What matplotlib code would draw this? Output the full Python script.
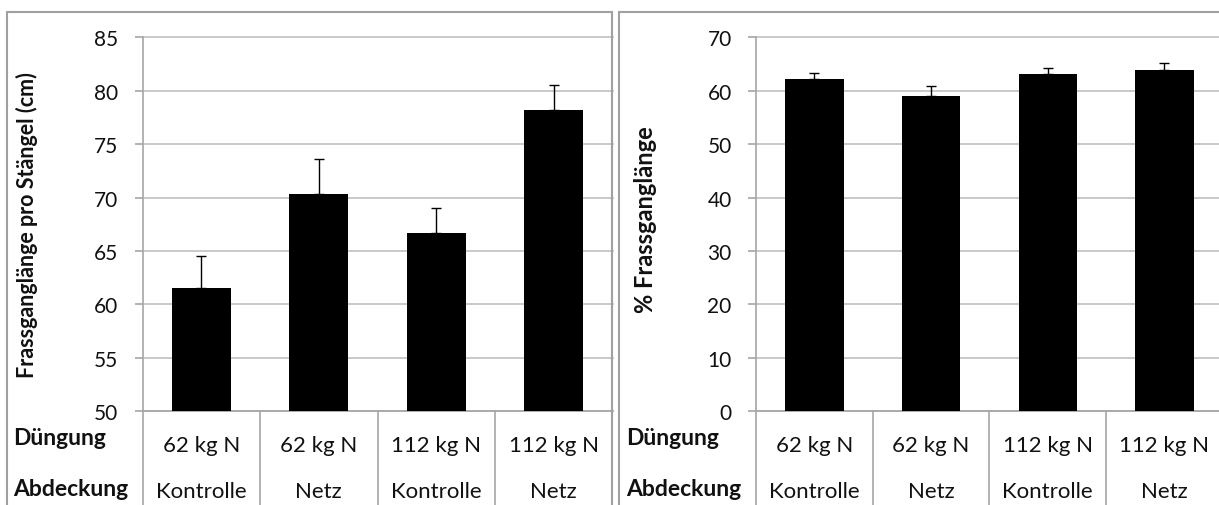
import matplotlib
matplotlib.use("Agg")
import matplotlib.pyplot as plt
from matplotlib.patches import Rectangle
from matplotlib.transforms import blended_transform_factory

plt.rcParams['font.family'] = ['Lato', 'DejaVu Sans']

duengung = ['62 kg N', '62 kg N', '112 kg N', '112 kg N']
abdeckung = ['Kontrolle', 'Netz', 'Kontrolle', 'Netz']

laenge = [61.5, 70.3, 66.7, 78.2]
laenge_err = [3.0, 3.3, 2.3, 2.3]
prozent = [62.2, 59.1, 63.2, 63.9]
prozent_err = [1.2, 1.8, 1.0, 1.3]

W, H = 1219, 506
GRID = '#c0c0c0'
AXIS = '#a6a6a6'
TXT = '#111111'
FS = 15

fig = plt.figure(figsize=(W / 100, H / 100), dpi=100)


def px_axes(x0, x1, ytop, ybot):
    return fig.add_axes([x0 / W, 1 - ybot / H, (x1 - x0) / W, (ybot - ytop) / H])


def panel(ax, vals, errs, ylim, step, ylabel, ylabel_fs, xlim_right):
    x = range(len(vals))
    ax.bar(x, vals, width=0.5, color='black', zorder=3)
    ax.errorbar(x, vals, yerr=[[0] * len(errs), errs], fmt='none',
                ecolor='black', elinewidth=1, capsize=3.8, capthick=1, zorder=4)
    ax.set_xlim(-0.5, xlim_right)
    ax.set_ylim(*ylim)
    ax.set_yticks(range(ylim[0], ylim[1] + 1, step))
    ax.yaxis.grid(True, color=GRID, lw=1.2, zorder=0)
    for gl in ax.get_ygridlines():
        gl.set_clip_on(False)
    ax.set_axisbelow(True)
    for s in ['top', 'right']:
        ax.spines[s].set_visible(False)
    for s in ['left', 'bottom']:
        ax.spines[s].set_color(AXIS)
        ax.spines[s].set_linewidth(1.2)
    ax.tick_params(axis='y', direction='out', length=5.5, width=1.2, color=AXIS,
                   labelsize=FS, pad=12, labelcolor=TXT)
    ax.tick_params(axis='x', bottom=False, labelbottom=False)
    ax.set_ylabel(ylabel, fontsize=ylabel_fs, fontweight='bold', color=TXT)

    tr = blended_transform_factory(ax.transData, ax.transAxes)
    h = ax.get_position().height * H
    for xd in [-0.5, 0.5, 1.5, 2.5]:
        ax.plot([xd, xd], [0, -110 / h], transform=tr, color=AXIS, lw=1.2,
                clip_on=False)
    for i in x:
        ax.text(i, -34 / h, duengung[i], transform=tr, ha='center', va='center',
                fontsize=16, color=TXT)
        ax.text(i, -80 / h, abdeckung[i], transform=tr, ha='center', va='center',
                fontsize=16, color=TXT)


# left panel
ax1 = px_axes(142.5, 612.5, 38.3, 412.3)
panel(ax1, laenge, laenge_err, (50, 85), 5, 'Frassganglänge pro Stängel (cm)',
      15.5, 3.5)
ax1.yaxis.set_label_coords((38 - 142.5) / 470, 0.5)

# right panel (cut off by the picture edge)
ax2 = px_axes(756, 1219, 38.3, 412.3)
panel(ax2, prozent, prozent_err, (0, 70), 10, '% Frassganglänge', 17,
      -0.5 + (1219 - 756) / 116.7)
ax2.yaxis.set_label_coords((657 - 756) / 463, 0.515)

for xl in [13, 626]:
    fig.text(xl / W, 1 - 439 / H, 'Düngung', ha='left', va='center',
             fontsize=16.5, fontweight='bold', color=TXT)
    fig.text(xl / W, 1 - 490 / H, 'Abdeckung', ha='left', va='center',
             fontsize=16.5, fontweight='bold', color=TXT)

# panel frames
fig.add_artist(Rectangle((7 / W, -0.1), (612 - 7) / W, 1.1 - 12.7 / H,
                         transform=fig.transFigure, fill=False,
                         edgecolor='#a0a0a0', lw=1.5))
fig.add_artist(Rectangle((619 / W, -0.1), 0.6, 1.1 - 12.7 / H,
                         transform=fig.transFigure, fill=False,
                         edgecolor='#a0a0a0', lw=1.5))

fig.savefig('out.png', dpi=100)
